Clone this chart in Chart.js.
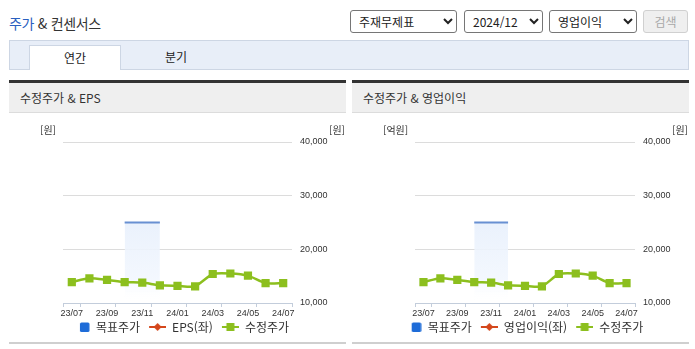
<!DOCTYPE html>
<html lang="ko">
<head>
<meta charset="utf-8">
<script src="https://cdn.jsdelivr.net/npm/chart.js@4/dist/chart.umd.min.js"></script>
<style>
  * { box-sizing: border-box; }
  body { margin: 0; width: 695px; height: 349px; background: #fff; position: relative; overflow: hidden;
         font-family: "Noto Sans CJK KR", "Noto Sans", sans-serif; color: #333; }
  .title { position: absolute; left: 9px; top: 13px; font-size: 14px; line-height: 20px; color: #333; letter-spacing: -0.3px; }
  .title .b { color: #2a5fc0; }
  select { position: absolute; top: 10px; height: 23px; font-size: 12px; font-family: inherit; color: #222;
           border: 1px solid #767676; border-radius: 3px; background: #fff; padding: 0 2px 0 4px; }
  .btn { position: absolute; left: 643px; top: 10px; width: 45px; height: 23px; border: 1px solid #d0d0d0; border-radius: 3px;
         background: #efefef; color: #a8a8a8; font-size: 12px; line-height: 21px; text-align: center; }
  .tabbar { position: absolute; left: 9px; top: 40px; width: 680px; height: 30px; background: #e8eef8; border: 1px solid #cdd6e4; }
  .tab-on { position: absolute; left: 29px; top: 45px; width: 92px; height: 25px; background: #fff; border: 1px solid #cdd6e4;
            border-bottom: none; font-size: 12px; line-height: 24px; text-align: center; color: #222; }
  .tab-off { position: absolute; left: 130px; top: 45px; width: 92px; height: 25px; font-size: 12px; line-height: 24px; text-align: center; color: #222; }
  .panel { position: absolute; top: 80px; width: 337px; height: 264px; }
  .panel .head { position: absolute; left: 0; top: 0; width: 337px; height: 33px; border-top: 3px solid #333; background: #efefef;
                 border-bottom: 1px solid #dcdcdc; font-size: 12px; line-height: 29px; padding-left: 11px; color: #333; }
  .panel canvas { position: absolute; left: 0; top: 33px; }
  .panel .foot { position: absolute; left: 0; top: 262px; width: 337px; height: 2px; background: #cfcfcf; }
</style>
</head>
<body>
<div class="title"><span class="b">주가</span> &amp; 컨센서스</div>
<select style="left:350px;width:107px;"><option>주재무제표</option></select>
<select style="left:464px;width:79px;"><option>2024/12</option></select>
<select style="left:549px;width:88px;"><option>영업이익</option></select>
<div class="btn">검색</div>
<div class="tabbar"></div>
<div class="tab-on">연간</div>
<div class="tab-off">분기</div>

<div class="panel" style="left:9px;">
  <div class="head">수정주가 &amp; EPS</div>
  <canvas id="c1" width="337" height="230"></canvas>
  <div class="foot"></div>
</div>
<div class="panel" style="left:352px;">
  <div class="head">수정주가 &amp; 영업이익</div>
  <canvas id="c2" width="337" height="230"></canvas>
  <div class="foot"></div>
</div>

<script>
// ---------------- data ----------------
const months = ['23/07','23/08','23/09','23/10','23/11','23/12','24/01','24/02','24/03','24/04','24/05','24/06','24/07'];
const adjPrice = [13900, 14600, 14300, 13900, 13800, 13300, 13200, 13100, 15400, 15500, 15100, 13700, 13700];
const targetPrice = [null, null, null, 25000, 25000, 25000, null, null, null, null, null, null, null];
const eps = [null, null, null, null, null, null, null, null, null, null, null, null, null];
const opProfit = [null, null, null, null, null, null, null, null, null, null, null, null, null];
const priceAxisMin = 10000;
const priceAxisMax = 40000;
const priceAxisStep = 10000;

// ---------------- styles ----------------
const GREEN = '#8cbf1e';
const RED = '#d4471c';
const BLUE = '#1e6cd8';
const TARGET_LINE = '#6890d2';
const KFONT = '"Noto Sans CJK KR", "Noto Sans", sans-serif';
const NFONT = '"Liberation Sans", Arial, sans-serif';

Chart.defaults.font.family = KFONT;
Chart.defaults.color = '#333';

// legend icons: 24px wide, the drawing sits on the right 17px (left part = gap between items)
function icon(kind, color) {
  const c = document.createElement('canvas');
  c.width = 24; c.height = 12;
  const x = c.getContext('2d');
  x.fillStyle = color; x.strokeStyle = color;
  const o = 7;
  if (kind === 'square') {
    x.beginPath();
    if (x.roundRect) x.roundRect(o + 7, 1.5, 9.5, 9.5, 1.5); else x.rect(o + 7, 1.5, 9.5, 9.5);
    x.fill();
  } else {
    x.lineWidth = 2;
    x.beginPath(); x.moveTo(o, 6); x.lineTo(o + 17, 6); x.stroke();
    x.beginPath();
    if (kind === 'diamond') {
      x.moveTo(o + 8.5, 2); x.lineTo(o + 12.5, 6); x.lineTo(o + 8.5, 10); x.lineTo(o + 4.5, 6); x.closePath();
    } else {
      x.rect(o + 4.5, 2, 8, 8);
    }
    x.fill();
  }
  return c;
}

const unitPlugin = {
  id: 'units',
  afterDraw(chart, args, opts) {
    const c = chart.ctx;
    c.save();
    c.font = '10px ' + KFONT;
    c.fillStyle = '#333';
    c.textBaseline = 'middle';
    c.textAlign = 'left';
    c.fillText(opts.left, 31, 17);
    c.textAlign = 'right';
    c.fillText(opts.right, 336, 17);
    c.restore();
  }
};

function makeChart(id, barLabel, barData, leftUnit, leftWidth) {
  const legendIcons = [icon('square', BLUE), icon('diamond', RED), icon('rect', GREEN)];
  return new Chart(document.getElementById(id), {
    type: 'line',
    data: {
      labels: months,
      datasets: [
        {
          label: '목표주가', data: targetPrice, yAxisID: 'y1', order: 2,
          borderColor: TARGET_LINE, borderWidth: 2, pointRadius: 0, tension: 0,
          fill: 'start',
          backgroundColor: (ctx) => {
            const ca = ctx.chart.chartArea;
            if (!ca) return 'rgba(0,0,0,0)';
            const g = ctx.chart.ctx.createLinearGradient(0, ca.top, 0, ca.bottom);
            g.addColorStop(0, 'rgba(224,235,251,0.9)');
            g.addColorStop(0.5, 'rgba(232,240,252,0.9)');
            g.addColorStop(0.85, 'rgba(242,247,254,0.9)');
            g.addColorStop(1, 'rgba(255,255,255,0)');
            return g;
          }
        },
        {
          label: barLabel, data: barData, yAxisID: 'y', order: 1,
          borderColor: RED, backgroundColor: RED, borderWidth: 2, pointStyle: 'rectRot', pointRadius: 4
        },
        {
          label: '수정주가', data: adjPrice, yAxisID: 'y1', order: 0,
          borderColor: GREEN, backgroundColor: GREEN, borderWidth: 2.5, tension: 0.2,
          pointStyle: 'rect', pointRadius: 5.8, pointHoverRadius: 5.8, pointBorderWidth: 0,
          pointBackgroundColor: GREEN
        }
      ]
    },
    options: {
      responsive: false,
      animation: false,
      devicePixelRatio: 1,
      layout: { padding: { top: 29, left: 0, right: 0, bottom: 0 } },
      plugins: {
        tooltip: { enabled: false },
        units: { left: leftUnit, right: '[원]' },
        legend: {
          position: 'bottom',
          labels: {
            usePointStyle: true, pointStyleWidth: 24, boxHeight: 12, padding: 2,
            font: { size: 12, family: KFONT }, color: '#333',
            generateLabels: (chart) => chart.data.datasets.map((ds, i) => ({
              text: ds.label, datasetIndex: i, hidden: false, pointStyle: legendIcons[i],
              fillStyle: 'transparent', strokeStyle: 'transparent', lineWidth: 0, fontColor: '#333'
            }))
          }
        }
      },
      scales: {
        x: {
          type: 'category', offset: true,
          afterFit: (s) => { s.height = 16; },
          border: { display: true, color: '#c3cddb', width: 1 },
          grid: {
            display: true, offset: true, drawOnChartArea: false, drawTicks: true, tickLength: 4,
            color: (c) => (c.type !== 'tick' || c.index === 0 || c.index % 2 === 1) ? '#c3cddb' : 'rgba(0,0,0,0)'
          },
          ticks: {
            autoSkip: false, maxRotation: 0, padding: 1, color: '#333',
            font: { size: 9, family: NFONT },
            callback: (v, i) => (i % 2 === 0 ? months[i] : '')
          }
        },
        y: {
          position: 'left', display: true,
          afterFit: (s) => { s.width = leftWidth; },
          grid: { display: false }, border: { display: false }, ticks: { display: false }
        },
        y1: {
          position: 'right', min: priceAxisMin, max: priceAxisMax,
          afterFit: (s) => { s.width = 54; },
          border: { display: false },
          grid: { drawTicks: false, color: (c) => (c.tick && c.tick.value === priceAxisMin) ? 'rgba(0,0,0,0)' : '#dcdcdc' },
          ticks: {
            stepSize: priceAxisStep, padding: 8, color: '#333', font: { size: 9, family: NFONT },
            callback: (v) => v.toLocaleString('en-US')
          }
        }
      }
    },
    plugins: [unitPlugin]
  });
}

makeChart('c1', 'EPS(좌)', eps, '[원]', 54);
makeChart('c2', '영업이익(좌)', opProfit, '[억원]', 63);
</script>
</body>
</html>
